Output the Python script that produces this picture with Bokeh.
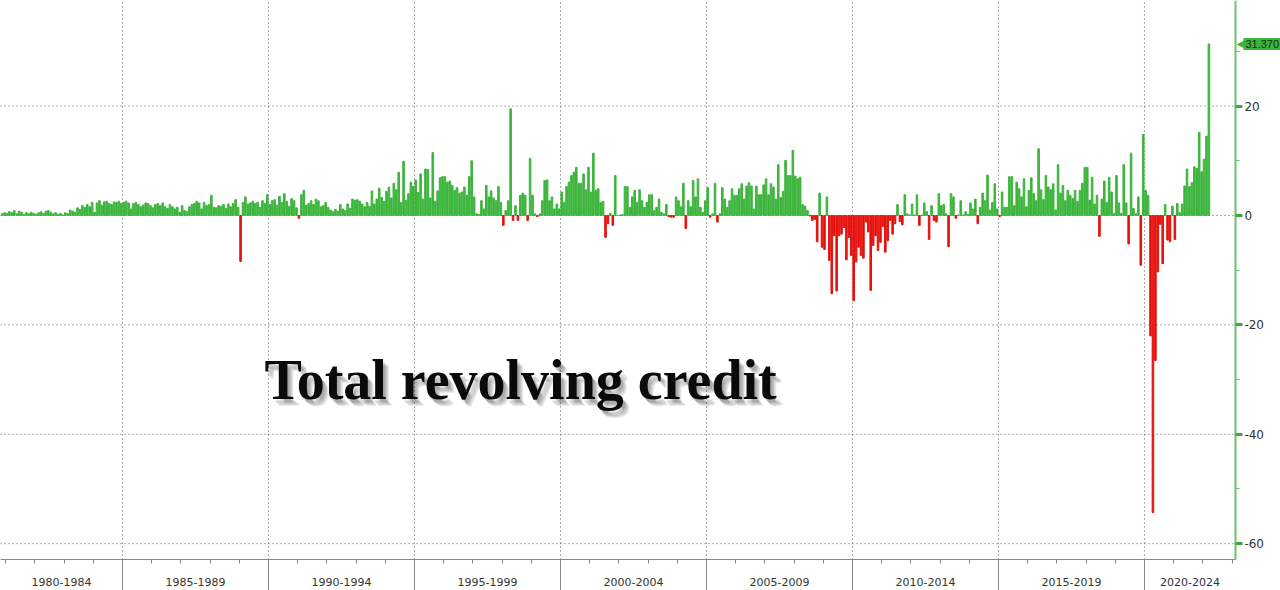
import pandas as pd
from bokeh.plotting import figure
from bokeh.models import ColumnDataSource, FixedTicker, Label, LinearAxis, Range1d
from bokeh.embed import file_html
from bokeh.resources import INLINE

# monthly change in revolving credit, $bn, Nov 1980 .. Mar 2022
first_month = "1980-11-01"
chg_1980_84 = [0.3, 0.5,
               0.4, 0.7, 0.5, 0.9, 0.3, 0.8, 0.6, 0.2, 0.5, 0.3, 0.6, 0.4,
               0.2, 0.5, 0.7, 0.4, 0.8, 0.9, 0.6, 0.3, 0.5, 0.2, 0.4, 0.1,
               0.5, 0.3, 1.0, 0.8, 0.6, 1.4, 1.1, 1.8, 1.5, 2.0, 1.6, 2.4,
               0.6, 2.3, 2.7, 1.9, 2.5, 2.6, 2.2, 2.0, 2.5, 2.4, 2.6, 2.2]
chg_1985_89 = [2.4, 2.6, 2.3, 1.2, 2.2, 2.4, 2.0, 1.6, 1.9, 2.3, 2.2, 1.8,
               1.4, 2.0, 2.2, 1.8, 2.3, 1.6, 1.3, 2.0, 1.6, 1.2, 1.5, 0.6,
               1.8, 0.9, 0.7, 1.6, 2.0, 2.2, 2.6, 2.3, 1.2, 2.4, 1.8, 2.0,
               3.7, 1.5, 1.4, 1.8, 1.7, 2.0, 1.3, 2.1, 1.6, 2.2, 2.9, 1.5,
               -8.4, 2.4, 3.4, 2.1, 2.3, 2.6, 2.2, 2.4, 1.5, 2.7, 2.2, 3.8]
chg_1990_94 = [2.0, 2.7, 2.9, 1.9, 3.5, 2.4, 4.0, 2.6, 1.7, 3.1, 2.7, 1.4,
               -0.5, 3.8, 4.6, 1.9, 2.2, 2.7, 2.0, 3.0, 2.7, 1.6, 1.8, 2.4,
               1.5, 1.0, 0.7, 1.1, 0.8, 2.0, 1.2, 0.9, 2.1, 1.3, 3.0, 2.8,
               2.9, 2.6, 2.1, 1.6, 2.4, 1.7, 4.5, 2.1, 3.0, 5.0, 3.3, 2.6,
               4.4, 5.2, 3.2, 5.9, 4.7, 7.9, 2.4, 9.9, 2.8, 4.0, 6.1, 5.3]
chg_1995_99 = [6.5, 4.2, 7.6, 3.0, 8.5, 8.4, 3.2, 11.5, 2.6, 4.5, 6.9, 7.1,
               7.1, 6.1, 6.3, 5.5, 4.6, 5.1, 4.1, 4.3, 5.2, 3.7, 7.1, 10.0,
               3.4, 0.3, 0.2, 2.7, 1.2, 5.5, 3.4, 4.5, 3.2, 2.7, 5.3, 2.4,
               -1.8, 0.9, 2.7, 19.5, -0.9, 1.8, -0.9, 3.7, 4.1, 3.7, -0.9, 10.4,
               3.7, 0.3, -0.2, 0.3, 2.7, 6.4, 6.5, 2.7, 3.4, 1.2, 2.1, 1.2]
chg_2000_04 = [4.3, 2.4, 5.3, 6.1, 7.3, 7.9, 8.8, 5.9, 5.9, 7.6, 4.7, 8.8,
               4.3, 11.4, 4.6, 4.9, 2.4, 2.6, -4.0, -1.5, 0.4, -1.8, 7.3, 0.0,
               0.1, 0.2, 5.3, 5.3, 1.5, 3.4, 4.6, 2.4, 4.7, 2.7, 1.5, 2.4,
               3.8, 3.8, 0.9, 1.5, 3.0, 0.6, 0.3, 2.0, -0.2, -0.3, -0.3, 3.4,
               2.7, 1.6, 5.9, -2.4, 2.7, 1.6, 6.4, 3.4, 6.7, 1.5, 0.6, 2.7]
chg_2005_09 = [5.1, -0.3, 0.3, 5.9, -1.2, 0.3, 5.1, 3.0, 1.5, 2.7, 4.9, 3.7,
               3.7, 4.9, 5.8, 3.0, 5.4, 6.0, 5.4, 1.2, 5.4, 3.8, 3.8, 5.6,
               6.7, 3.8, 5.8, 5.2, 3.0, 9.3, 3.3, 4.4, 10.1, 7.3, 7.3, 11.9,
               7.2, 6.7, 7.0, 2.0, 1.7, 0.9, -0.1, -0.9, -0.7, -4.8, 4.1, -5.8,
               -6.2, 3.4, -8.2, -14.3, -3.7, -13.8, -3.7, -3.4, -2.2, -8.1, -4.0, -7.3]
chg_2010_14 = [-15.6, -8.5, -5.8, -7.3, -7.8, -1.2, -3.0, -13.7, -5.5, -3.7, -6.4, -4.9,
               -2.0, -6.7, -4.6, -0.9, -3.4, -1.5, 2.0, -1.1, -1.7, 3.8, 0.3, 0.1,
               2.1, 0.1, 3.8, -1.8, 0.1, 2.3, 0.7, -4.4, 1.8, -0.9, -1.2, 4.0,
               1.8, 2.0, 0.3, -5.7, 4.0, 3.4, -0.5, 0.1, 2.7, 0.1, 0.7, 0.2,
               2.3, 1.2, 3.0, -1.5, 1.5, 4.1, 2.7, 7.4, 1.0, 2.4, 5.8, 1.2]
chg_2015_19 = [-0.2, 4.3, 1.5, 1.5, 7.1, 7.1, 1.8, 6.1, 4.9, 3.4, 6.7, 1.6,
               4.6, 6.9, 4.0, 2.7, 12.2, 4.7, 2.9, 7.3, 5.2, 4.7, 5.8, 1.0,
               9.3, 4.1, 5.5, 2.7, 4.6, 3.7, 3.1, 4.6, 2.6, 4.6, 5.9, 8.8,
               8.8, 2.8, 7.0, 2.1, 3.7, -3.8, 3.0, 6.3, 2.4, 7.0, 4.3, 0.4,
               7.3, 2.3, 0.4, 9.3, 2.3, -5.2, 11.4, 1.3, 0.3, 3.4, -9.1, 14.8]
chg_2020_24 = [4.6, 3.7, -22.0, -54.3, -26.5, -10.3, -1.6, -8.8, 2.0, -4.5, -4.8, 1.7,
               -4.4, 2.2, 0.5, 2.1, 5.4, 8.5, 5.3, 6.0, 8.9, 8.6, 15.2, 8.0,
               10.3, 14.5, 31.37]

period_labels = ["1980-1984", "1985-1989", "1990-1994", "1995-1999", "2000-2004",
                 "2005-2009", "2010-2014", "2015-2019", "2020-2024"]
period_starts = [1980, 1985, 1990, 1995, 2000, 2005, 2010, 2015, 2020]
y_ticks = [-60, -40, -20, 0, 20]
y_minor = [-50, -30, -10, 10, 30]

values = (chg_1980_84 + chg_1985_89 + chg_1990_94 + chg_1995_99 + chg_2000_04
          + chg_2005_09 + chg_2010_14 + chg_2015_19 + chg_2020_24)
dates = pd.date_range(first_month, periods=len(values), freq="MS")
xs = [d.year + (d.month - 0.5) / 12 for d in dates]

GREEN = "#3db53d"
RED = "#e6120e"
colors = [GREEN if v >= 0 else RED for v in values]
source = ColumnDataSource(data=dict(x=xs, top=values, color=colors))

# visible window (whole canvas is the frame; axes are pinned inside it)
x0, x_axis, x1 = 1980.82, 2023.116, 2024.66
y0, y_axis, y1 = -68.56, -62.89, 39.31

p = figure(width=1280, height=590, output_backend="svg", toolbar_location=None,
           x_range=Range1d(x0, x1), y_range=Range1d(y0, y1),
           x_axis_location=None, y_axis_location=None, min_border=0)
p.outline_line_color = None
p.grid.visible = False

# dotted grid, stopping at the axes
bounds = period_starts[1:]
p.segment(x0=bounds, y0=[y_axis] * len(bounds), x1=bounds, y1=[y1] * len(bounds),
          line_color="#555555", line_dash="1 3", line_width=1)
p.segment(x0=[x0] * len(y_ticks), y0=y_ticks, x1=[x_axis] * len(y_ticks), y1=y_ticks,
          line_color="#555555", line_dash="1 3", line_width=1)

p.vbar(x="x", top="top", bottom=0, width=0.65 / 12, color="color", source=source)

# right value axis
ya = LinearAxis(fixed_location=x_axis, bounds=(y_axis, y1),
                ticker=FixedTicker(ticks=y_ticks, minor_ticks=y_minor))
ya.major_label_overrides = {t: str(t) for t in y_ticks}
ya.axis_line_color = "#6cc06c"
ya.axis_line_width = 2
ya.major_tick_line_color = "#3caa3c"
ya.major_tick_line_width = 3
ya.major_tick_out = 7
ya.major_tick_in = 0
ya.minor_tick_line_color = "#6cc06c"
ya.minor_tick_out = 4
ya.minor_tick_in = 0
ya.major_label_standoff = 2
ya.major_label_text_font = "DejaVu Sans"
ya.major_label_text_font_size = "12px"
ya.major_label_text_color = "#333333"
p.add_layout(ya, "right")

# bottom axis: long ticks between periods, short ticks every year
xa = LinearAxis(fixed_location=y_axis, bounds=(x0, x_axis),
                ticker=FixedTicker(ticks=bounds, minor_ticks=list(range(1981, 2024))))
xa.major_label_overrides = {t: "" for t in bounds}
xa.major_label_text_font_size = "0px"
xa.axis_line_color = "#888888"
xa.major_tick_line_color = "#888888"
xa.major_tick_out = 32
xa.major_tick_in = 0
xa.minor_tick_line_color = "#888888"
xa.minor_tick_out = 4
xa.minor_tick_in = 0
p.add_layout(xa, "below")

# period names centred in the visible part of each period
mids = [round((max(s, x0) + min(s + 5, x_axis)) / 2, 3) for s in period_starts]
la = LinearAxis(fixed_location=y_axis, ticker=FixedTicker(ticks=mids, minor_ticks=[]))
la.major_label_overrides = dict(zip(mids, period_labels))
la.axis_line_color = None
la.major_tick_line_color = None
la.minor_tick_line_color = None
la.major_label_standoff = 13
la.major_label_text_font = "DejaVu Sans"
la.major_label_text_font_size = "11px"
la.major_label_text_color = "#333333"
p.add_layout(la, "below")

# last value tag
last = values[-1]
p.add_layout(Label(x=x_axis, y=last, x_offset=1, text="\u25c0", text_baseline="middle",
                   text_font="DejaVu Sans", text_font_size="10px", text_color=GREEN))
p.add_layout(Label(x=x_axis, y=last, x_offset=8, text=f"{last:.3f}", text_baseline="middle",
                   text_font="Liberation Sans", text_font_size="11px", text_color="#0d2d0d",
                   background_fill_color=GREEN, padding=2))

# title with soft shadow
title_x, title_y = 1989.86, -35.83
for dx, dy in [(2, -3), (3, -4), (4, -5), (5, -6), (6, -7)]:
    p.add_layout(Label(x=title_x, y=title_y, x_offset=dx, y_offset=dy,
                       text="Total revolving credit", text_font="Liberation Serif",
                       text_font_style="bold", text_font_size="56px",
                       text_color="black", text_alpha=0.08))
p.add_layout(Label(x=title_x, y=title_y, text="Total revolving credit",
                   text_font="Liberation Serif", text_font_style="bold",
                   text_font_size="56px", text_color="#0a0a0a"))

open("out.html", "w").write(file_html(p, INLINE))
